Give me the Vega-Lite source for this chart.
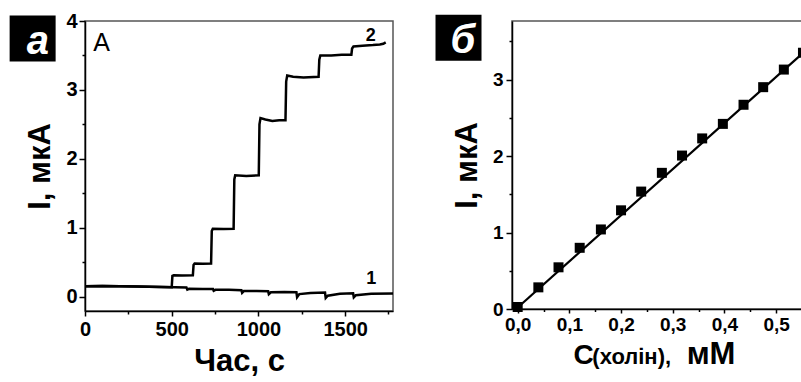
{
  "$schema": "https://vega.github.io/schema/vega-lite/v6.json",
  "background": "white",
  "padding": {"left": 8, "top": 10, "right": 0, "bottom": 0},
  "spacing": 37,
  "datasets": {
    "curves": [
      {"s": "1", "t": 0, "I": 0.15}, {"s": "1", "t": 100, "I": 0.152}, {"s": "1", "t": 200, "I": 0.148},
      {"s": "1", "t": 300, "I": 0.146}, {"s": "1", "t": 440, "I": 0.137}, {"s": "1", "t": 520, "I": 0.133},
      {"s": "1", "t": 585, "I": 0.13}, {"s": "1", "t": 590, "I": 0.1}, {"s": "1", "t": 600, "I": 0.112},
      {"s": "1", "t": 680, "I": 0.11}, {"s": "1", "t": 738, "I": 0.108}, {"s": "1", "t": 742, "I": 0.085},
      {"s": "1", "t": 752, "I": 0.098}, {"s": "1", "t": 830, "I": 0.097}, {"s": "1", "t": 902, "I": 0.092},
      {"s": "1", "t": 906, "I": 0.055}, {"s": "1", "t": 916, "I": 0.08}, {"s": "1", "t": 990, "I": 0.08},
      {"s": "1", "t": 1056, "I": 0.077}, {"s": "1", "t": 1060, "I": 0.035}, {"s": "1", "t": 1072, "I": 0.062},
      {"s": "1", "t": 1150, "I": 0.066}, {"s": "1", "t": 1219, "I": 0.064}, {"s": "1", "t": 1223, "I": -0.01},
      {"s": "1", "t": 1236, "I": 0.035}, {"s": "1", "t": 1300, "I": 0.052}, {"s": "1", "t": 1384, "I": 0.058},
      {"s": "1", "t": 1388, "I": -0.02}, {"s": "1", "t": 1400, "I": 0.012}, {"s": "1", "t": 1470, "I": 0.04},
      {"s": "1", "t": 1546, "I": 0.048}, {"s": "1", "t": 1550, "I": -0.012}, {"s": "1", "t": 1562, "I": 0.02},
      {"s": "1", "t": 1650, "I": 0.04}, {"s": "1", "t": 1776, "I": 0.045},
      {"s": "2", "t": 0, "I": 0.15}, {"s": "2", "t": 100, "I": 0.152}, {"s": "2", "t": 200, "I": 0.148},
      {"s": "2", "t": 300, "I": 0.146}, {"s": "2", "t": 440, "I": 0.137}, {"s": "2", "t": 500, "I": 0.134},
      {"s": "2", "t": 504, "I": 0.30}, {"s": "2", "t": 512, "I": 0.31}, {"s": "2", "t": 560, "I": 0.305},
      {"s": "2", "t": 622, "I": 0.31}, {"s": "2", "t": 626, "I": 0.46}, {"s": "2", "t": 632, "I": 0.48},
      {"s": "2", "t": 680, "I": 0.475}, {"s": "2", "t": 727, "I": 0.48}, {"s": "2", "t": 731, "I": 0.95},
      {"s": "2", "t": 737, "I": 0.985}, {"s": "2", "t": 800, "I": 0.98}, {"s": "2", "t": 857, "I": 0.985},
      {"s": "2", "t": 861, "I": 1.70}, {"s": "2", "t": 866, "I": 1.76}, {"s": "2", "t": 930, "I": 1.75},
      {"s": "2", "t": 1002, "I": 1.76}, {"s": "2", "t": 1006, "I": 2.50}, {"s": "2", "t": 1012, "I": 2.59},
      {"s": "2", "t": 1040, "I": 2.57}, {"s": "2", "t": 1080, "I": 2.55}, {"s": "2", "t": 1120, "I": 2.56},
      {"s": "2", "t": 1156, "I": 2.56}, {"s": "2", "t": 1160, "I": 3.12}, {"s": "2", "t": 1166, "I": 3.21},
      {"s": "2", "t": 1200, "I": 3.19}, {"s": "2", "t": 1260, "I": 3.18}, {"s": "2", "t": 1347, "I": 3.19},
      {"s": "2", "t": 1351, "I": 3.44}, {"s": "2", "t": 1357, "I": 3.50}, {"s": "2", "t": 1420, "I": 3.50},
      {"s": "2", "t": 1480, "I": 3.51}, {"s": "2", "t": 1536, "I": 3.51}, {"s": "2", "t": 1540, "I": 3.60},
      {"s": "2", "t": 1548, "I": 3.63}, {"s": "2", "t": 1600, "I": 3.64}, {"s": "2", "t": 1660, "I": 3.65},
      {"s": "2", "t": 1700, "I": 3.66}, {"s": "2", "t": 1720, "I": 3.67}, {"s": "2", "t": 1734, "I": 3.69}
    ],
    "curveLabels": [
      {"lab": "1", "t": 1650, "I": 0.184},
      {"lab": "2", "t": 1648, "I": 3.715}
    ],
    "calib": [
      {"C": 0.0, "I": 0.026}, {"C": 0.04, "I": 0.283}, {"C": 0.079, "I": 0.545},
      {"C": 0.12, "I": 0.80}, {"C": 0.161, "I": 1.04}, {"C": 0.2, "I": 1.29},
      {"C": 0.239, "I": 1.535}, {"C": 0.279, "I": 1.78}, {"C": 0.318, "I": 2.006},
      {"C": 0.357, "I": 2.23}, {"C": 0.397, "I": 2.42}, {"C": 0.437, "I": 2.67},
      {"C": 0.475, "I": 2.90}, {"C": 0.515, "I": 3.13}, {"C": 0.552, "I": 3.35}
    ],
    "fit": [
      {"C": 0.0, "I": 0.02},
      {"C": 0.554, "I": 3.36}
    ],
    "xTitleB": [
      {"txt": "C", "C": 0.108, "part": "big"},
      {"txt": "(холін),", "C": 0.1445, "part": "small"},
      {"txt": "мМ", "C": 0.327, "part": "big2"}
    ]
  },
  "hconcat": [
    {
      "width": 308,
      "height": 290,
      "resolve": {"axis": {"x": "independent", "y": "independent"}},
      "layer": [
        {
          "data": {"name": "curves"},
          "mark": {"type": "line", "color": "black", "strokeWidth": 2.5, "clip": true},
          "encoding": {
            "x": {"field": "t", "type": "quantitative",
                  "scale": {"domain": [0, 1776], "nice": false, "zero": false},
                  "axis": {"orient": "bottom", "values": [0, 500, 1000, 1500], "format": "d", "title": "Час, с", "titleFontSize": 31, "titlePadding": 7, "labelFontSize": 20, "tickSize": 5, "labelPadding": 3}},
            "y": {"field": "I", "type": "quantitative",
                  "scale": {"domain": [-0.21, 4], "nice": false, "zero": false},
                  "axis": {"orient": "left", "values": [0, 1, 2, 3, 4], "format": "d", "title": "I, мкА", "titleFontSize": 31, "titlePadding": 9, "labelFontSize": 20, "tickSize": 6, "labelPadding": 2}},
            "detail": {"field": "s"}
          }
        },
        {
          "data": {"name": "curves"},
          "mark": {"type": "point", "opacity": 0},
          "encoding": {
            "x": {"field": "t", "type": "quantitative",
                  "scale": {"domain": [0, 1776], "nice": false, "zero": false},
                  "axis": {"orient": "bottom", "values": [250, 750, 1250, 1750], "labels": false, "tickSize": 3, "domain": false, "title": null}},
            "y": {"field": "I", "type": "quantitative",
                  "scale": {"domain": [-0.21, 4], "nice": false, "zero": false},
                  "axis": {"orient": "left", "values": [0.5, 1.5, 2.5, 3.5], "labels": false, "tickSize": 3, "domain": false, "title": null}}
          }
        },
        {
          "data": {"name": "curveLabels"},
          "mark": {"type": "text", "fontSize": 18, "fontWeight": "bold", "baseline": "alphabetic", "align": "center", "color": "black", "clip": false},
          "encoding": {
            "x": {"field": "t", "type": "quantitative", "scale": {"domain": [0, 1776], "nice": false, "zero": false}, "axis": null},
            "y": {"field": "I", "type": "quantitative", "scale": {"domain": [-0.21, 4], "nice": false, "zero": false}, "axis": null},
            "text": {"field": "lab"}
          }
        },
        {
          "data": {"values": [{"lab": "A"}]},
          "mark": {"type": "text", "fontSize": 25, "fontWeight": "normal", "baseline": "alphabetic", "align": "center", "color": "black", "clip": false},
          "encoding": {
            "x": {"datum": 96, "type": "quantitative", "scale": {"domain": [0, 1776], "nice": false, "zero": false}, "axis": null},
            "y": {"datum": 3.57, "type": "quantitative", "scale": {"domain": [-0.21, 4], "nice": false, "zero": false}, "axis": null},
            "text": {"field": "lab"}
          }
        },
        {
          "data": {"values": [{"lab": "а"}]},
          "mark": {"type": "square", "size": 2116, "color": "black", "opacity": 1, "clip": false},
          "encoding": {
            "x": {"datum": -302, "type": "quantitative", "scale": {"domain": [0, 1776], "nice": false, "zero": false}, "axis": null},
            "y": {"datum": 3.745, "type": "quantitative", "scale": {"domain": [-0.21, 4], "nice": false, "zero": false}, "axis": null}
          }
        },
        {
          "data": {"values": [{"lab": "а"}]},
          "mark": {"type": "text", "fontSize": 40, "fontWeight": "bold", "fontStyle": "italic", "baseline": "alphabetic", "align": "center", "color": "white", "clip": false},
          "encoding": {
            "x": {"datum": -272, "type": "quantitative", "scale": {"domain": [0, 1776], "nice": false, "zero": false}, "axis": null},
            "y": {"datum": 3.52, "type": "quantitative", "scale": {"domain": [-0.21, 4], "nice": false, "zero": false}, "axis": null},
            "text": {"field": "lab"}
          }
        }
      ]
    },
    {
      "width": 292,
      "height": 288,
      "resolve": {"axis": {"x": "independent", "y": "independent"}},
      "layer": [
        {
          "data": {"name": "fit"},
          "mark": {"type": "line", "color": "black", "strokeWidth": 2.2, "clip": true},
          "encoding": {
            "x": {"field": "C", "type": "quantitative",
                  "scale": {"domain": [-0.011, 0.554], "nice": false, "zero": false},
                  "axis": {"orient": "bottom", "values": [0.05, 0.15, 0.25, 0.35, 0.45, 0.55], "labels": false, "tickSize": 2.5, "domain": false, "title": null}},
            "y": {"field": "I", "type": "quantitative",
                  "scale": {"domain": [0, 3.765], "nice": false, "zero": false},
                  "axis": {"orient": "left", "values": [0.5, 1.5, 2.5, 3.5], "labels": false, "tickSize": 3, "domain": false, "title": null}}
          }
        },
        {
          "data": {"name": "calib"},
          "mark": {"type": "square", "size": 100, "color": "black", "opacity": 1, "clip": false},
          "encoding": {
            "x": {"field": "C", "type": "quantitative",
                  "scale": {"domain": [-0.011, 0.554], "nice": false, "zero": false},
                  "axis": {"orient": "bottom", "values": [0, 0.1, 0.2, 0.3, 0.4, 0.5], "labelExpr": "replace(format(datum.value, '.1f'), '.', ',')", "title": null, "labelFontSize": 19, "tickSize": 4, "labelPadding": 2}},
            "y": {"field": "I", "type": "quantitative",
                  "scale": {"domain": [0, 3.765], "nice": false, "zero": false},
                  "axis": {"orient": "left", "values": [0, 1, 2, 3], "format": "d", "title": "I, мкА", "titleFontSize": 31, "titlePadding": 9, "labelFontSize": 19, "tickSize": 6, "labelPadding": 3}}
          }
        },
        {
          "data": {"name": "xTitleB"},
          "transform": [{"filter": "datum.part == 'big'"}],
          "mark": {"type": "text", "fontSize": 28, "fontWeight": "bold", "baseline": "alphabetic", "align": "left", "color": "black", "clip": false},
          "encoding": {
            "x": {"field": "C", "type": "quantitative", "scale": {"domain": [-0.011, 0.554], "nice": false, "zero": false}, "axis": null},
            "y": {"datum": -0.715, "type": "quantitative", "scale": {"domain": [0, 3.765], "nice": false, "zero": false}, "axis": null},
            "text": {"field": "txt"}
          }
        },
        {
          "data": {"name": "xTitleB"},
          "transform": [{"filter": "datum.part == 'small'"}],
          "mark": {"type": "text", "fontSize": 22, "fontWeight": "bold", "baseline": "alphabetic", "align": "left", "color": "black", "clip": false},
          "encoding": {
            "x": {"field": "C", "type": "quantitative", "scale": {"domain": [-0.011, 0.554], "nice": false, "zero": false}, "axis": null},
            "y": {"datum": -0.715, "type": "quantitative", "scale": {"domain": [0, 3.765], "nice": false, "zero": false}, "axis": null},
            "text": {"field": "txt"}
          }
        },
        {
          "data": {"name": "xTitleB"},
          "transform": [{"filter": "datum.part == 'big2'"}],
          "mark": {"type": "text", "fontSize": 31, "fontWeight": "bold", "baseline": "alphabetic", "align": "left", "color": "black", "clip": false},
          "encoding": {
            "x": {"field": "C", "type": "quantitative", "scale": {"domain": [-0.011, 0.554], "nice": false, "zero": false}, "axis": null},
            "y": {"datum": -0.715, "type": "quantitative", "scale": {"domain": [0, 3.765], "nice": false, "zero": false}, "axis": null},
            "text": {"field": "txt"}
          }
        },
        {
          "data": {"values": [{"lab": "б"}]},
          "mark": {"type": "square", "size": 2116, "color": "black", "opacity": 1, "clip": false},
          "encoding": {
            "x": {"datum": -0.1145, "type": "quantitative", "scale": {"domain": [-0.011, 0.554], "nice": false, "zero": false}, "axis": null},
            "y": {"datum": 3.546, "type": "quantitative", "scale": {"domain": [0, 3.765], "nice": false, "zero": false}, "axis": null}
          }
        },
        {
          "data": {"values": [{"lab": "б"}]},
          "mark": {"type": "text", "fontSize": 40, "fontWeight": "bold", "fontStyle": "italic", "baseline": "alphabetic", "align": "center", "color": "white", "clip": false},
          "encoding": {
            "x": {"datum": -0.106, "type": "quantitative", "scale": {"domain": [-0.011, 0.554], "nice": false, "zero": false}, "axis": null},
            "y": {"datum": 3.346, "type": "quantitative", "scale": {"domain": [0, 3.765], "nice": false, "zero": false}, "axis": null},
            "text": {"field": "lab"}
          }
        }
      ]
    }
  ],
  "config": {
    "view": {"stroke": "#555555", "strokeWidth": 1.5},
    "axis": {
      "grid": false,
      "domainColor": "black",
      "domainWidth": 1.5,
      "tickColor": "black",
      "tickWidth": 1.5,
      "labelFlush": false,
      "labelFont": "Liberation Sans",
      "labelFontWeight": "bold",
      "labelColor": "black",
      "titleFont": "Liberation Sans",
      "titleFontWeight": "bold",
      "titleColor": "black"
    },
    "text": {"font": "Liberation Sans"}
  }
}
